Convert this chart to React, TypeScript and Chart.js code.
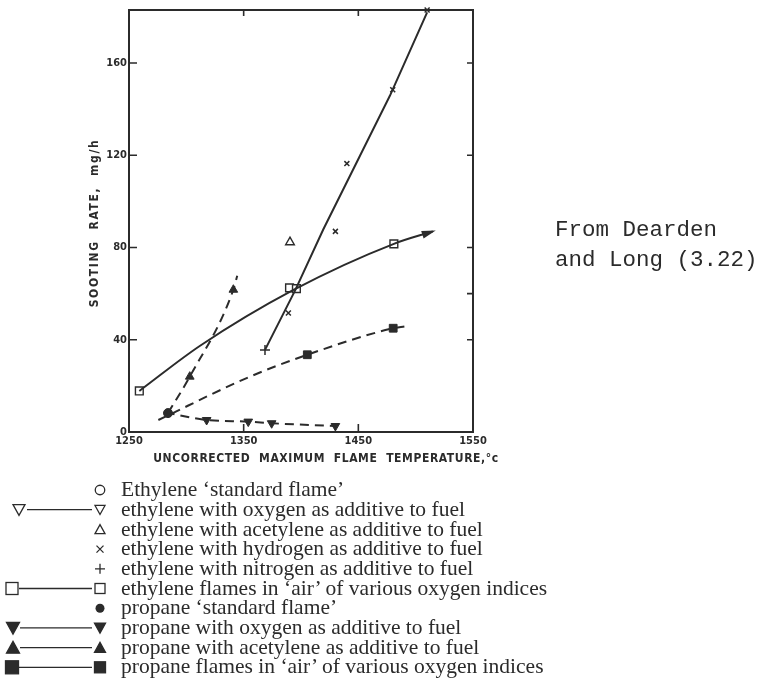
import React, { useEffect, useRef } from "react";
import { Chart, registerables } from "chart.js";
Chart.register(...registerables);

// ---- axis ticks ----
const xTicks = [1250, 1350, 1450, 1550];
const yTicks = [0, 40, 80, 120, 160];
const topTicks = [1350, 1450];
const rightTicks = [40, 60, 80, 120, 160];
const xMin = 1250;
const xMax = 1550;
const yMin = 0;
const yMax = 183;

// ---- ethylene flames in 'air' of various oxygen indices (open squares, solid curve) ----
const ethAirTemp = [1259, 1390, 1396, 1481];
const ethAirRate = [17.8, 62.5, 62.2, 81.6];
const ethAirCurveTemp = [1259, 1312, 1393, 1481, 1515];
const ethAirCurveRate = [17.8, 37.4, 61.5, 81.6, 87];

// ---- ethylene with hydrogen (x) and nitrogen (+), solid line ----
const h2Temp = [1389, 1430, 1440, 1480, 1510];
const h2Rate = [51.6, 87, 116.4, 148.4, 183];
const h2LineTemp = [1368.6, 1395, 1419.4, 1477.5, 1510];
const h2LineRate = [35.6, 61.5, 87.8, 145.8, 182];
const n2Temp = [1368.6];
const n2Rate = [35.6];

// ---- ethylene with acetylene (open triangle) ----
const ethC2h2Temp = [1390.4];
const ethC2h2Rate = [82.3];

// ---- propane 'standard flame' (filled circle) ----
const propStdTemp = [1284];
const propStdRate = [8.2];

// ---- propane with acetylene (filled triangles, dashed) ----
const propC2h2Temp = [1303, 1341];
const propC2h2Rate = [24, 61.7];
const propC2h2LineTemp = [1284, 1303, 1341, 1344.4];
const propC2h2LineRate = [8.2, 24, 61.7, 67.8];

// ---- propane flames in 'air' (filled squares, dashed) ----
const propAirTemp = [1405.5, 1480.4];
const propAirRate = [33.5, 45];
const propAirLineTemp = [1275.6, 1355.5, 1405.5, 1480.4, 1490.6];
const propAirLineRate = [5.2, 24, 33.5, 45, 45.8];

// ---- propane with oxygen (filled inverted triangles, dashed) ----
const propO2Temp = [1317.7, 1354, 1374.4, 1430];
const propO2Rate = [5.2, 4.5, 3.8, 2.6];
const propO2LineTemp = [1282, 1317.7, 1354, 1374.4, 1430];
const propO2LineRate = [8.5, 5.2, 4.5, 3.8, 2.6];

// ---- texts ----
const xTitle = "UNCORRECTED  MAXIMUM  FLAME  TEMPERATURE,°c";
const yTitle = "SOOTING  RATE,  mg/h";
const noteLines = ["From Dearden", "and Long (3.22)"];
const legendLabels = [
  "Ethylene ‘standard flame’",
  "ethylene with oxygen as additive to fuel",
  "ethylene with acetylene as additive to fuel",
  "ethylene with hydrogen as additive to fuel",
  "ethylene with nitrogen as additive to fuel",
  "ethylene flames in ‘air’ of various oxygen indices",
  "propane ‘standard flame’",
  "propane with oxygen as additive to fuel",
  "propane with acetylene as additive to fuel",
  "propane flames in ‘air’ of various oxygen indices",
];
const legendKinds = [
  "circle",
  "triDownOpen",
  "triOpen",
  "x",
  "plus",
  "squareOpen",
  "dot",
  "triDownFilled",
  "triFilled",
  "squareFilled",
];
const legendHasLeft = [false, true, false, false, false, true, false, true, true, true];

const INK = "#2b2b2b";
const TICK_FONT = "'DejaVu Sans Condensed', 'DejaVu Sans', sans-serif";

const pts = (xs: number[], ys: number[]) => xs.map((x, i) => ({ x, y: ys[i] }));

const decorPlugin = {
  id: "decor",
  beforeDatasetsDraw(chart: any) {
    const { ctx, chartArea: a, scales } = chart;
    const xs = scales.x;
    const ys = scales.y;
    ctx.save();
    ctx.strokeStyle = INK;
    ctx.lineWidth = 2;
    ctx.strokeRect(a.left, a.top, a.right - a.left, a.bottom - a.top);
    ctx.lineWidth = 1.6;
    ctx.beginPath();
    yTicks.forEach((v) => {
      if (v === yMin) return;
      const y = ys.getPixelForValue(v);
      ctx.moveTo(a.left, y);
      ctx.lineTo(a.left + 8, y);
    });
    rightTicks.forEach((v) => {
      const y = ys.getPixelForValue(v);
      ctx.moveTo(a.right, y);
      ctx.lineTo(a.right - 6, y);
    });
    topTicks.forEach((v) => {
      const x = xs.getPixelForValue(v);
      ctx.moveTo(x, a.bottom);
      ctx.lineTo(x, a.bottom - 8);
      ctx.moveTo(x, a.top);
      ctx.lineTo(x, a.top + 6);
    });
    ctx.stroke();
    ctx.restore();
  },
  afterDatasetsDraw(chart: any) {
    const { ctx, chartArea: a } = chart;
    // arrow head at the end of the ethylene-air curve
    const meta = chart.getDatasetMeta(0);
    const els = meta.data;
    const last = els[els.length - 1];
    const prev = els[els.length - 2];
    let dx = last.x - (last.cp1x ?? prev.x);
    let dy = last.y - (last.cp1y ?? prev.y);
    const len = Math.hypot(dx, dy) || 1;
    dx /= len;
    dy /= len;
    const L = 11;
    const W = 4;
    ctx.save();
    ctx.fillStyle = INK;
    ctx.beginPath();
    ctx.moveTo(last.x + dx * 3, last.y + dy * 3);
    ctx.lineTo(last.x - dx * L - dy * W, last.y - dy * L + dx * W);
    ctx.lineTo(last.x - dx * L + dy * W, last.y - dy * L - dx * W);
    ctx.closePath();
    ctx.fill();

    // axis titles
    ctx.fillStyle = INK;
    ctx.font = `bold 12px ${TICK_FONT}`;
    ctx.textBaseline = "middle";
    ctx.textAlign = "center";
    const fit = (text: string, target: number) => {
      (ctx as any).letterSpacing = "0px";
      const w = ctx.measureText(text).width;
      const sp = Math.max(-0.3, (target - w) / (text.length - 1));
      (ctx as any).letterSpacing = `${sp}px`;
    };
    fit(xTitle, 345);
    ctx.fillText(xTitle, a.left + 197, a.bottom + 27);
    ctx.save();
    ctx.translate(a.left - 34, (a.top + a.bottom) / 2 + 2);
    ctx.rotate(-Math.PI / 2);
    fit(yTitle, 167);
    ctx.fillText(yTitle, 0, 0);
    ctx.restore();
    (ctx as any).letterSpacing = "0px";
    ctx.restore();
  },
};

function Symbol({ kind, cx, cy, s }: { kind: string; cx: number; cy: number; s: number }) {
  const stroke = INK;
  const sw = 1.3;
  switch (kind) {
    case "circle":
      return <circle cx={cx} cy={cy} r={s * 0.95} fill="none" stroke={stroke} strokeWidth={sw} />;
    case "dot":
      return <circle cx={cx} cy={cy} r={s * 0.9} fill={stroke} />;
    case "triOpen":
    case "triFilled":
      return (
        <polygon
          points={`${cx - s},${cy + s * 0.85} ${cx + s},${cy + s * 0.85} ${cx},${cy - s * 0.95}`}
          fill={kind === "triFilled" ? stroke : "none"}
          stroke={stroke}
          strokeWidth={sw}
        />
      );
    case "triDownOpen":
    case "triDownFilled":
      return (
        <polygon
          points={`${cx - s},${cy - s * 0.85} ${cx + s},${cy - s * 0.85} ${cx},${cy + s * 0.95}`}
          fill={kind === "triDownFilled" ? stroke : "none"}
          stroke={stroke}
          strokeWidth={sw}
        />
      );
    case "squareOpen":
    case "squareFilled":
      return (
        <rect
          x={cx - s}
          y={cy - s}
          width={2 * s}
          height={2 * s}
          fill={kind === "squareFilled" ? stroke : "none"}
          stroke={stroke}
          strokeWidth={sw}
        />
      );
    case "x":
      return (
        <path
          d={`M${cx - s * 0.7},${cy - s * 0.7}L${cx + s * 0.7},${cy + s * 0.7}M${cx + s * 0.7},${cy - s * 0.7}L${cx - s * 0.7},${cy + s * 0.7}`}
          stroke={stroke}
          strokeWidth={sw}
        />
      );
    case "plus":
      return (
        <path d={`M${cx - s},${cy}L${cx + s},${cy}M${cx},${cy - s}L${cx},${cy + s}`} stroke={stroke} strokeWidth={sw} />
      );
    default:
      return null;
  }
}

export default function App() {
  const ref = useRef<HTMLCanvasElement>(null);
  useEffect(() => {
    const canvas = ref.current!;
    const lineBase = { showLine: true, borderColor: INK, borderWidth: 2, pointRadius: 0, clip: false as any };
    const tickFont = { family: TICK_FONT, size: 11, weight: "bold" as const };
    const chart = new Chart(canvas, {
      type: "scatter",
      data: {
        datasets: [
          {
            ...lineBase,
            label: "ethylene flames in air (curve)",
            data: pts(ethAirCurveTemp, ethAirCurveRate),
            tension: 0.4,
            cubicInterpolationMode: "monotone",
          },
          { ...lineBase, label: "ethylene with hydrogen (line)", data: pts(h2LineTemp, h2LineRate) },
          {
            ...lineBase,
            label: "propane with acetylene (line)",
            data: pts(propC2h2LineTemp, propC2h2LineRate),
            borderDash: [9, 6],
            tension: 0.3,
            cubicInterpolationMode: "monotone",
          },
          {
            ...lineBase,
            label: "propane flames in air (line)",
            data: pts(propAirLineTemp, propAirLineRate),
            borderDash: [9, 6],
            tension: 0.4,
            cubicInterpolationMode: "monotone",
          },
          {
            ...lineBase,
            label: "propane with oxygen (line)",
            data: pts(propO2LineTemp, propO2LineRate),
            borderDash: [9, 6],
            tension: 0.3,
            cubicInterpolationMode: "monotone",
          },
          {
            label: "ethylene flames in 'air' of various oxygen indices",
            data: pts(ethAirTemp, ethAirRate),
            pointStyle: "rect",
            pointRadius: 5.5,
            backgroundColor: "#fff",
            borderColor: INK,
            borderWidth: 1.4,
            clip: false as any,
          },
          {
            label: "ethylene with hydrogen as additive to fuel",
            data: pts(h2Temp, h2Rate),
            pointStyle: "crossRot",
            pointRadius: 3.5,
            borderColor: INK,
            borderWidth: 1.5,
            clip: false as any,
          },
          {
            label: "ethylene with nitrogen as additive to fuel",
            data: pts(n2Temp, n2Rate),
            pointStyle: "cross",
            pointRadius: 5,
            borderColor: INK,
            borderWidth: 1.5,
            clip: false as any,
          },
          {
            label: "ethylene with acetylene as additive to fuel",
            data: pts(ethC2h2Temp, ethC2h2Rate),
            pointStyle: "triangle",
            pointRadius: 5,
            backgroundColor: "#fff",
            borderColor: INK,
            borderWidth: 1.4,
            clip: false as any,
          },
          {
            label: "propane 'standard flame'",
            data: pts(propStdTemp, propStdRate),
            pointStyle: "circle",
            pointRadius: 4.5,
            backgroundColor: INK,
            borderColor: INK,
            clip: false as any,
          },
          {
            label: "propane with acetylene as additive to fuel",
            data: pts(propC2h2Temp, propC2h2Rate),
            pointStyle: "triangle",
            pointRadius: 5,
            backgroundColor: INK,
            borderColor: INK,
            clip: false as any,
          },
          {
            label: "propane flames in 'air' of various oxygen indices",
            data: pts(propAirTemp, propAirRate),
            pointStyle: "rect",
            pointRadius: 5.5,
            backgroundColor: INK,
            borderColor: INK,
            clip: false as any,
          },
          {
            label: "propane with oxygen as additive to fuel",
            data: pts(propO2Temp, propO2Rate),
            pointStyle: "triangle",
            rotation: 180,
            pointRadius: 5,
            backgroundColor: INK,
            borderColor: INK,
            clip: false as any,
          } as any,
        ],
      },
      options: {
        responsive: false,
        animation: false,
        events: [],
        layout: { padding: { top: 10, right: 294, bottom: 221, left: 0 } },
        plugins: { legend: { display: false }, tooltip: { enabled: false }, title: { display: false } },
        scales: {
          x: {
            type: "linear",
            min: xMin,
            max: xMax,
            afterBuildTicks: (s: any) => {
              s.ticks = xTicks.map((v) => ({ value: v }));
            },
            afterFit: (s: any) => {
              s.height = 30;
            },
            grid: { display: false, drawTicks: false },
            border: { display: false },
            ticks: { color: INK, padding: 3, font: tickFont, callback: (v: any) => String(v) },
          },
          y: {
            type: "linear",
            min: yMin,
            max: yMax,
            afterBuildTicks: (s: any) => {
              s.ticks = yTicks.map((v) => ({ value: v }));
            },
            afterFit: (s: any) => {
              s.width = 129;
            },
            grid: { display: false, drawTicks: false },
            border: { display: false },
            ticks: { color: INK, padding: 2, font: tickFont, callback: (v: any) => String(v) },
          },
        },
      },
      plugins: [decorPlugin],
    });
    return () => chart.destroy();
  }, []);

  const rowH = 19.7;
  const firstRowCenter = 490;
  const svgTop = 478;
  return (
    <div style={{ position: "absolute", left: 0, top: 0, width: 767, height: 683, background: "#fff", overflow: "hidden" }}>
      <canvas ref={ref} width={767} height={683} style={{ position: "absolute", left: 0, top: 0 }} />
      <svg width={120} height={683 - svgTop} style={{ position: "absolute", left: 0, top: svgTop }}>
        {legendKinds.map((k, i) => {
          const cy = firstRowCenter - svgTop + i * rowH;
          const filled = k === "triDownFilled" || k === "triFilled" || k === "squareFilled";
          return (
            <g key={i}>
              {legendHasLeft[i] && (
                <>
                  <Symbol
                    kind={k}
                    cx={k.startsWith("square") ? 12 : k === "triDownOpen" ? 19 : 13}
                    cy={cy}
                    s={filled ? 6.5 : 6}
                  />
                  <line
                    x1={k.startsWith("square") ? 19 : k === "triDownOpen" ? 27 : 20}
                    x2={92}
                    y1={cy}
                    y2={cy}
                    stroke={INK}
                    strokeWidth={1.3}
                  />
                </>
              )}
              <Symbol kind={k} cx={100} cy={cy} s={filled ? 5.5 : 5} />
            </g>
          );
        })}
      </svg>
      <div
        style={{
          position: "absolute",
          left: 121,
          top: firstRowCenter - rowH / 2,
          fontFamily: "'Liberation Serif', 'Times New Roman', serif",
          fontSize: 21.5,
          lineHeight: `${rowH}px`,
          color: INK,
          whiteSpace: "nowrap",
        }}
      >
        {legendLabels.map((t, i) => (
          <div key={i} style={{ height: rowH }}>
            {t}
          </div>
        ))}
      </div>
      <div
        style={{
          position: "absolute",
          left: 555,
          top: 215,
          fontFamily: "'Liberation Mono', 'DejaVu Sans Mono', monospace",
          fontSize: 22.5,
          lineHeight: "30px",
          color: INK,
          whiteSpace: "pre",
        }}
      >
        {noteLines.map((t, i) => (
          <div key={i}>{t}</div>
        ))}
      </div>
    </div>
  );
}
